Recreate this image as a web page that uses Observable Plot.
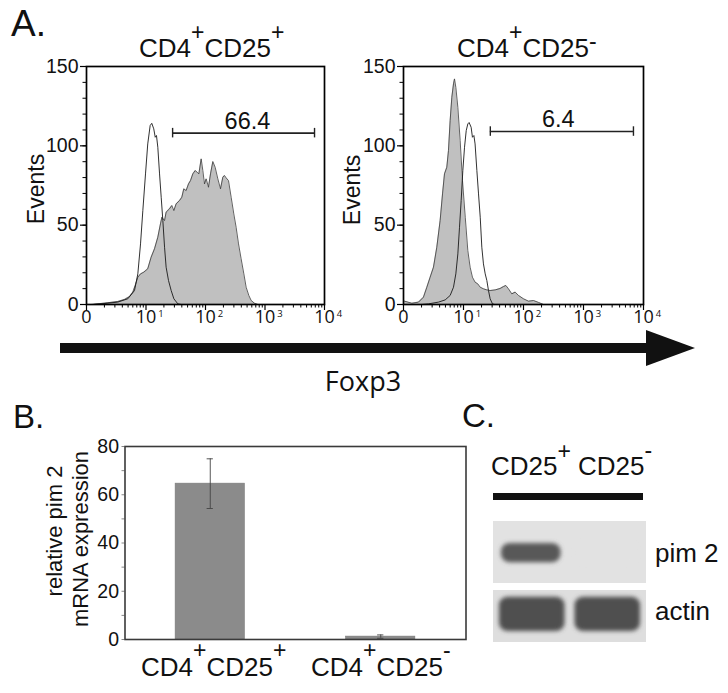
<!DOCTYPE html>
<html>
<head>
<meta charset="utf-8">
<script src="https://cdn.jsdelivr.net/npm/d3@7"></script>
<script src="https://cdn.jsdelivr.net/npm/@observablehq/plot@0.6"></script>
<style>
html,body{margin:0;padding:0;background:#fff;}
#fig{position:relative;width:728px;height:693px;overflow:hidden;background:#fff;font-family:"Liberation Sans",Arial,sans-serif;}
#fig svg{position:absolute;}
</style>
</head>
<body>
<div id="fig"></div>
<script>
// ---------------- Panel A : Foxp3 histograms ----------------
const decadeValues = [1, 10, 100, 1000, 10000];
const decadeText = ["0", "10", "10", "10", "10"];
const decadeExp = ["", "1", "2", "3", "4"];
const countTicks = [0, 50, 100, 150];

// CD4+CD25+ : Foxp3 stain (grey filled)
const posStainX = [1.3, 1.55, 2.28, 3.36, 4.35, 5.28, 6.01, 6.58, 7.29, 8.09, 9.2, 10.7, 12.2, 13.9, 15.8, 17.5, 18.5, 20.5, 21.8, 24.8, 27.2, 29.4, 32.1, 36.6, 40.0, 43.2, 47.3, 51.8, 56.0, 61.2, 67.0, 72.4, 77.3, 84.6, 90.2, 96.2, 102.6, 112.3, 121.4, 132.8, 145.3, 161.2, 178.7, 195.6, 208.6, 222.5, 243.5, 270, 299, 327, 359, 397, 441, 482, 535, 586, 666, 758];
const posStainN = [0, 0.4, 1.1, 1.9, 3.2, 5.0, 7.8, 12.0, 17.2, 19.3, 20.4, 22.5, 29.8, 35.1, 42.4, 50.8, 55.0, 52.9, 58.2, 60.3, 62.4, 59.2, 63.4, 65.5, 67.6, 72.9, 71.8, 76.0, 78.1, 82.3, 84.4, 83.4, 82.3, 91.8, 84.4, 76.0, 79.2, 73.9, 82.3, 90.1, 86.5, 79.2, 72.9, 80.2, 81.3, 79.8, 78.1, 67.6, 57.1, 48.7, 38.2, 28.8, 19.3, 10.9, 5.7, 2.5, 0.8, 0];
// CD4+CD25+ : control (open line)
const posCtrlX = [1.2, 1.76, 3.36, 4.95, 6.41, 7.29, 8.09, 8.85, 9.81, 10.7, 11.75, 12.5, 13.5, 14.3, 15.0, 15.8, 16.9, 18.0, 19.2, 20.5, 21.8, 23.9, 26.5, 29.4, 34.3, 39];
const posCtrlN = [0, 0.4, 1.5, 3.6, 8.8, 19.3, 38.2, 59.2, 82.3, 101.2, 112.8, 114.2, 110.7, 105.4, 106.5, 99.1, 82.3, 67.6, 52.9, 36.1, 23.5, 15.1, 8.8, 3.6, 0.4, 0];

// CD4+CD25- : Foxp3 stain (grey filled)
const negStainX = [1, 1.04, 1.38, 1.78, 2.15, 2.45, 2.78, 3.16, 3.59, 4.08, 4.47, 4.82, 5.27, 5.62, 5.99, 6.39, 6.81, 7.08, 7.45, 8.05, 8.8, 9.62, 10.7, 11.8, 12.9, 14.1, 15.6, 17.3, 19.0, 21.5, 24.5, 27.8, 33.7, 40.8, 46.4, 50.8, 56.2, 63.9, 72.6, 82.6, 100, 121, 147, 178, 215];
const negStainN = [2.3, 2.1, 0.8, 1.5, 4.6, 10.9, 17.2, 23.5, 36.1, 52.9, 69.7, 82.3, 86.5, 97.0, 115.9, 130.6, 139.0, 142.2, 136.9, 124.3, 103.3, 78.1, 55.0, 34.0, 23.5, 17.2, 14.1, 13.0, 10.9, 9.9, 9.2, 8.8, 9.2, 10.1, 11.3, 12.0, 9.9, 6.7, 7.8, 5.7, 3.6, 2.1, 2.5, 1.3, 0];
// CD4+CD25- : control (open line)
const negCtrlX = [2.0, 2.61, 3.83, 4.95, 5.99, 6.81, 7.45, 8.05, 8.58, 9.14, 9.75, 10.4, 11.1, 11.8, 12.4, 13.4, 14.1, 14.9, 15.6, 16.7, 17.8, 19.0, 20.2, 21.5, 23.0, 24.5, 26.1, 27.8, 30.4, 33];
const negCtrlN = [0, 0.4, 1.5, 2.9, 5.7, 10.9, 19.3, 31.9, 48.7, 65.5, 84.4, 99.1, 109.6, 113.8, 114.7, 111.7, 105.4, 106.5, 101.2, 84.4, 69.7, 55.0, 36.1, 25.6, 19.3, 15.1, 8.8, 3.6, 0.4, 0];

const gateRange = [28, 6800];
const gateLevels = [108, 109];
const gateLabels = ["66.4", "6.4"];
const gateLabelX = [508, 380];

// ---------------- Panel B : qPCR bars ----------------
const barCategories = ["CD4+CD25+", "CD4+CD25-"];
const barValues = [64.6, 1.2];
const barErrors = [10.3, 0.7];
const exprTicks = [0, 20, 40, 60, 80];

// ---------------- Panel C : western blot ----------------
const blotLanes = ["CD25+", "CD25-"];
const blotRows = ["pim 2", "actin"];
const pim2Levels = [0.88, 0];
const actinLevels = [0.94, 0.94];

// ---------------- helpers ----------------
const zip = (xs, ns) => xs.map((x, i) => ({x, n: ns[i]}));
const decades = decadeValues.map((v, i) => ({v, t: decadeText[i], e: decadeExp[i]}));
const minorX = [];
decadeValues.slice(0, -1).forEach(d => { for (let m = 2; m <= 9; m++) minorX.push(m * d); });
const minorCount = d3.range(0, 151, 10);

const fig = document.getElementById("fig");

function histogram(stain, ctrl, k, pos) {
  const svg = Plot.plot({
    width: pos.w, height: 340,
    marginLeft: pos.ml, marginRight: pos.mr, marginTop: 66, marginBottom: 36,
    style: {background: "transparent", overflow: "visible", fontFamily: "Liberation Sans, Arial, sans-serif"},
    x: {type: "log", domain: [1, 10000], label: null},
    y: {domain: [0, 150], label: null},
    marks: [
      Plot.areaY(stain, {x: "x", y: "n", fill: "#c0c0c0"}),
      Plot.lineY(stain, {x: "x", y: "n", stroke: "#3a3a3a", strokeWidth: 0.8}),
      Plot.lineY(ctrl, {x: "x", y: "n", stroke: "#1a1a1a", strokeWidth: 0.9}),
      Plot.axisY(minorCount, {tickSize: 3.5, tickFormat: () => "", label: null, strokeWidth: 1}),
      Plot.axisY(countTicks, {tickSize: 6, tickPadding: 2, fontSize: 19.5, label: null, strokeWidth: 1.2, fill: "#111"}),
      Plot.axisX(minorX, {tickSize: 3.5, tickFormat: () => "", label: null, strokeWidth: 1}),
      Plot.axisX(decadeValues, {tickSize: 6, tickFormat: () => "", label: null, strokeWidth: 1.2}),
      Plot.text(decades, {x: "v", text: "t", frameAnchor: "bottom", dy: 18, fontSize: 18, fontFamily: "Open Sans, sans-serif", fill: "#111"}),
      Plot.text(decades.filter(d => d.e), {x: "v", text: "e", frameAnchor: "bottom", dy: 12, dx: 15, fontSize: 9.5, fontFamily: "Open Sans, sans-serif", fill: "#111"}),
      Plot.frame({stroke: "#000", strokeWidth: 1.7}),
      Plot.ruleY([gateLevels[k]], {x1: gateRange[0], x2: gateRange[1], stroke: "#222", strokeWidth: 1.6}),
      Plot.ruleX(gateRange, {y1: gateLevels[k] - 3, y2: gateLevels[k] + 3, stroke: "#222", strokeWidth: 1.4}),
      Plot.text([gateLabels[k]], {x: gateLabelX[k], y: gateLevels[k], text: d => d, dy: -12, fontSize: 23.5, fill: "#111"})
    ]
  });
  svg.style.left = pos.left + "px";
  svg.style.top = "0px";
  fig.appendChild(svg);
}

histogram(zip(posStainX, posStainN), zip(posCtrlX, posCtrlN), 0, {left: 0, w: 364, ml: 86, mr: 40});
histogram(zip(negStainX, negStainN), zip(negCtrlX, negCtrlN), 1, {left: 340, w: 388, ml: 63, mr: 85});

// Panel B
const barData = barCategories.map((c, i) => ({c, v: barValues[i], lo: barValues[i] - barErrors[i], hi: barValues[i] + barErrors[i]}));
{
  const svg = Plot.plot({
    width: 480, height: 293,
    marginLeft: 124.5, marginRight: 14.5, marginTop: 46, marginBottom: 54,
    style: {background: "transparent", overflow: "visible", fontFamily: "Liberation Sans, Arial, sans-serif"},
    x: {domain: barCategories, paddingInner: 0.594, paddingOuter: 0.297, round: false, axis: null},
    y: {domain: [0, 80], axis: null},
    marks: [
      Plot.barY(barData, {x: "c", y: "v", fill: "#8b8b8b", stroke: "#7a7a7a", strokeWidth: 0.6}),
      Plot.ruleX(barData, {x: "c", y1: "lo", y2: "hi", stroke: "#444", strokeWidth: 0.9}),
      Plot.tickY(barData, {x: "c", y: "hi", stroke: "#444", strokeWidth: 0.9, insetLeft: 31.5, insetRight: 31.5}),
      Plot.tickY(barData, {x: "c", y: "lo", stroke: "#444", strokeWidth: 0.9, insetLeft: 31.5, insetRight: 31.5}),
      Plot.axisY(d3.range(0, 81, 10), {tickSize: 3, tickFormat: () => "", label: null, stroke: "#888"}),
      Plot.axisY(exprTicks, {tickSize: 0, tickPadding: 6, fontSize: 19.5, label: null, fill: "#111"}),
      Plot.frame({stroke: "#3a3a3a", strokeWidth: 1.6})
    ]
  });
  svg.style.left = "0px";
  svg.style.top = "400px";
  fig.appendChild(svg);
}

// Panel C
const blotCells = [];
blotRows.forEach((r, j) => blotLanes.forEach((l, i) => blotCells.push({row: r, lane: l, level: (j === 0 ? pim2Levels : actinLevels)[i]})));
{
  const svg = Plot.plot({
    width: 248, height: 160,
    marginLeft: 14, marginRight: 83, marginTop: 21, marginBottom: 18,
    style: {background: "transparent", overflow: "visible"},
    x: {domain: blotLanes, padding: 0, round: false, axis: null},
    y: {domain: blotRows, paddingInner: 0.1, paddingOuter: 0, round: false, axis: null},
    color: {type: "linear", domain: [0, 1], range: ["#e2e2e2", "#464646"]},
    marks: [
      Plot.cell(blotCells.filter(d => d.row === "pim 2"), {x: "lane", y: "row", fill: "#e2e2e2", insetTop: 0, insetLeft: -0.6, insetRight: -0.6, insetBottom: -5}),
      Plot.cell(blotCells.filter(d => d.row === "actin"), {x: "lane", y: "row", fill: "#dedede", insetBottom: 0, insetLeft: -0.6, insetRight: -0.6, insetTop: 5}),
      Plot.cell(blotCells.filter(d => d.row === "pim 2"), {x: "lane", y: "row", fill: "level", insetTop: 22, insetBottom: 16, insetLeft: 7, insetRight: 9}),
      Plot.cell(blotCells.filter(d => d.row === "actin"), {x: "lane", y: "row", fill: "level", insetTop: 12, insetBottom: 11, insetLeft: 5, insetRight: 5})
    ]
  });
  const s = d3.select(svg);
  const f = s.append("defs").append("filter").attr("id", "blotblur").attr("x", "-20%").attr("y", "-40%").attr("width", "140%").attr("height", "180%");
  f.append("feGaussianBlur").attr("stdDeviation", 2.0);
  s.selectAll('g[aria-label="cell"]').filter((d, i) => i >= 2).attr("filter", "url(#blotblur)").selectAll("rect").attr("rx", 9).attr("ry", 8);
  s.selectAll('g[aria-label="cell"]').filter((d, i) => i < 2).selectAll("rect").attr("shape-rendering", "crispEdges");
  svg.style.left = "480px";
  svg.style.top = "500px";
  fig.appendChild(svg);
}

// ---------------- annotation overlay ----------------
const ov = d3.select(fig).append("svg").attr("width", 728).attr("height", 693)
  .style("left", "0px").style("top", "0px").style("pointer-events", "none")
  .attr("font-family", "Liberation Sans, Arial, sans-serif").attr("fill", "#111");

function rich(x, y, parts, size) {
  const t = ov.append("text").attr("x", x).attr("y", y).attr("font-size", size);
  parts.forEach(p => t.append("tspan").attr("y", y + (p[2] || 0)).attr("font-size", p[1] || size).text(p[0]));
  return t;
}

// panel letters
ov.append("text").attr("x", 11).attr("y", 36).attr("font-size", 37).text("A.");
ov.append("text").attr("x", 13).attr("y", 428).attr("font-size", 33).text("B.");
ov.append("text").attr("x", 462).attr("y", 427).attr("font-size", 33).text("C.");

// A titles
rich(139, 57, [["CD4"], ["+", 23, -17], ["CD25"], ["+", 23, -17]], 26);
rich(457, 57, [["CD4"], ["+", 23, -17], ["CD25"], ["-", 23, -8]], 26);

// Events labels
[[44, 189], [360, 190]].forEach(([x, y]) => ov.append("text").attr("transform", `translate(${x},${y}) rotate(-90)`).attr("text-anchor", "middle").attr("font-size", 23).text("Events"));

// Foxp3 arrow
ov.append("rect").attr("x", 60).attr("y", 343).attr("width", 594).attr("height", 10).attr("fill", "#111");
ov.append("path").attr("d", "M646,330 L695,348 L646,366 Z").attr("fill", "#111");
ov.append("text").attr("x", 363).attr("y", 391).attr("text-anchor", "middle").attr("font-size", 27).attr("font-family", "Open Sans, sans-serif").text("Foxp3");

// B y label
ov.append("text").attr("transform", "translate(62,531) rotate(-90)").attr("text-anchor", "middle").attr("font-size", 22).text("relative pim 2");
ov.append("text").attr("transform", "translate(88,539) rotate(-90)").attr("text-anchor", "middle").attr("font-size", 22).text("mRNA expression");

// B category labels
rich(141, 676, [["CD4"], ["+", 23, -18], ["CD25"], ["+", 23, -18]], 26);
rich(311, 676, [["CD4"], ["+", 23, -18], ["CD25"], ["-", 23, -18]], 26);

// C labels
rich(491, 475, [["CD25"], ["+", 23, -16]], 26);
rich(578, 475, [["CD25"], ["-", 23, -17]], 26);
ov.append("rect").attr("x", 493).attr("y", 493).attr("width", 150).attr("height", 7).attr("fill", "#111");
ov.append("text").attr("x", 655).attr("y", 562).attr("font-size", 26).text("pim 2");
ov.append("text").attr("x", 655).attr("y", 620).attr("font-size", 26).text("actin");
</script>
</body>
</html>
